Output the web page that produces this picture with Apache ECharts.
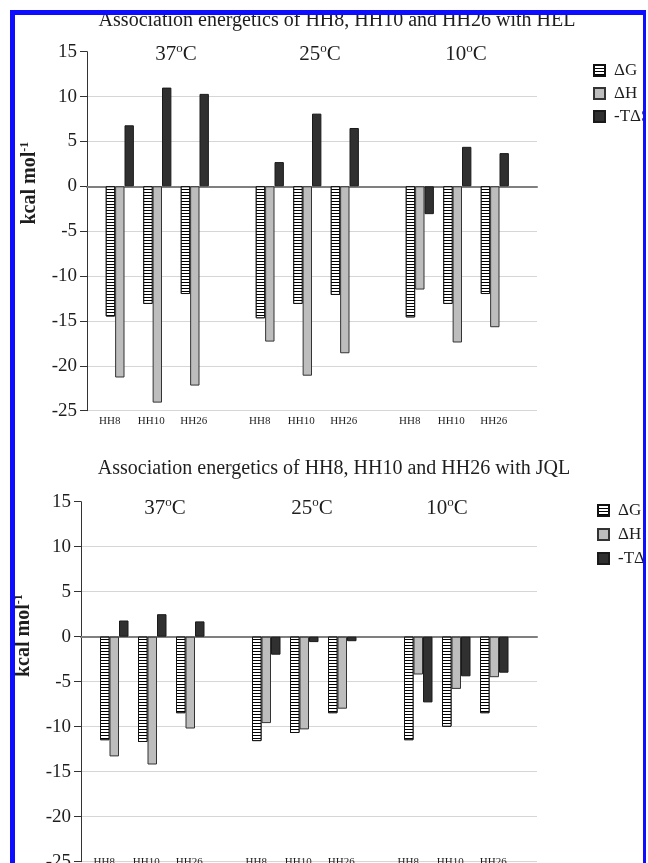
<!DOCTYPE html>
<html>
<head>
<meta charset="utf-8">
<script src="https://cdn.jsdelivr.net/npm/echarts@6/dist/echarts.min.js"></script>
<style>
  html, body { margin: 0; padding: 0; background: #fff; overflow: hidden; }
  #chart { width: 648px; height: 863px; }
  #frame { position: absolute; left: 10px; top: 10px; width: 636px; height: 900px; box-sizing: border-box;
    border-left: 5px solid #0d0dff; border-top: 5px solid #0d0dff; border-right: 3px solid #0d0dff; pointer-events: none; }
  #edge { position: absolute; left: 646px; top: 0; width: 2px; height: 863px; background: #fff; }
</style>
</head>
<body>
<div id="chart"></div>
<div id="frame"></div>
<div id="edge"></div>
<script>
// values, order: 37, 25, 10 degC, each HH8, HH10, HH26
var temps = ['37', '25', '10'];
var peptides = ['HH8', 'HH10', 'HH26'];
var seriesNames = ['ΔG', 'ΔH', '-TΔS'];
var yMin = -25, yMax = 15, yStep = 5;

var helDG = [-14.5, -13.1, -12.0, -14.7, -13.1, -12.1, -14.6, -13.1, -12.0];
var helDH = [-21.3, -24.1, -22.2, -17.3, -21.1, -18.6, -11.5, -17.4, -15.7];
var helTS = [6.8, 11.0, 10.3, 2.7, 8.1, 6.5, -3.1, 4.4, 3.7];

var jqlDG = [-11.5, -11.7, -8.5, -11.6, -10.7, -8.5, -11.5, -10.0, -8.5];
var jqlDH = [-13.3, -14.2, -10.2, -9.6, -10.3, -8.0, -4.2, -5.8, -4.5];
var jqlTS = [1.8, 2.5, 1.7, -2.0, -0.6, -0.5, -7.3, -4.4, -4.0];

var FONT = 'Liberation Serif';
var INK = '#1e1e1e';

// one empty category between temperatures
var cats = [];
temps.forEach(function (t, i) {
    if (i > 0) cats.push('gap' + i);
    peptides.forEach(function (p) { cats.push(t + ':' + p); });
});
function spaced(vals) {
    var out = [], k = 0;
    cats.forEach(function (c) { out.push(c.indexOf(':') < 0 ? null : vals[k++]); });
    return out;
}

var barStyles = [
    { color: '#fff', borderColor: '#111', borderWidth: 1,
      decal: { symbol: 'rect', symbolSize: 1, dashArrayX: [1, 0], dashArrayY: [1, 2], color: '#000', backgroundColor: '#fff' } },
    { color: '#bdbdbd', borderColor: '#333', borderWidth: 1 },
    { color: '#303030', borderColor: '#1a1a1a', borderWidth: 1 }
];

var panels = [
    { title: 'Association energetics of HH8, HH10 and HH26 with HEL', titleX: 337, titleY: 11,
      tempX: [176, 320, 466], tempY: 42, legendX: 593, legendY: 62, legendGap: 6,
      left: 87, top: 51.7, width: 450, height: 359, labelMargin: 5, nameGap: 43, nameShift: 96,
      data: [helDG, helDH, helTS] },
    { title: 'Association energetics of HH8, HH10 and HH26 with JQL', titleX: 334, titleY: 459,
      tempX: [165, 312, 447], tempY: 496, legendX: 597, legendY: 502, legendGap: 7,
      left: 81, top: 501.7, width: 456, height: 360, labelMargin: -5, nameGap: 44, nameShift: 92,
      data: [jqlDG, jqlDH, jqlTS] }
];

var option = { animation: false, backgroundColor: '#fff', title: [], legend: [], grid: [], xAxis: [], yAxis: [], series: [] };

panels.forEach(function (p, pi) {
    var slot = p.width / 48;
    var g0 = option.grid.length;

    option.title.push({ text: p.title, left: p.titleX, top: p.titleY, textAlign: 'center', padding: 0,
        textStyle: { fontFamily: FONT, fontSize: 20, fontWeight: 'normal', color: INK } });
    temps.forEach(function (t, i) {
        option.title.push({ text: t + '{o|o}C', left: p.tempX[i], top: p.tempY, textAlign: 'center', padding: 0,
            textStyle: { fontFamily: FONT, fontSize: 21, fontWeight: 'normal', color: INK, lineHeight: 24,
                rich: { o: { fontFamily: FONT, fontSize: 13, color: INK, verticalAlign: 'top', lineHeight: 24 } } } });
    });

    option.legend.push({ data: seriesNames, orient: 'vertical', left: p.legendX, top: p.legendY, padding: 0,
        icon: 'rect', itemWidth: 11, itemHeight: 11, itemGap: p.legendGap, selectedMode: false,
        textStyle: { fontFamily: FONT, fontSize: 17, color: INK, lineHeight: 17, padding: [0, 0, 0, 4] } });

    // axis grid and bar grid share the y scale
    option.grid.push({ left: p.left, top: p.top, width: p.width, height: p.height, outerBoundsMode: 'none' });
    option.grid.push({ left: p.left + 1.5 * slot, top: p.top, width: 44 * slot, height: p.height, outerBoundsMode: 'none' });

    option.xAxis.push({ gridIndex: g0, type: 'value', min: 0, max: 1,
        axisLine: { show: true, onZero: true, lineStyle: { color: '#7f7f7f', width: 2 } },
        axisTick: { show: false }, axisLabel: { show: false }, splitLine: { show: false } });
    option.xAxis.push({ gridIndex: g0 + 1, type: 'category', data: cats, position: 'bottom',
        axisLine: { show: false, onZero: false }, axisTick: { show: false }, splitLine: { show: false },
        axisLabel: { interval: 0, margin: p.labelMargin, fontFamily: FONT, fontSize: 11, color: INK,
            formatter: function (v) { var s = v.split(':'); return s.length < 2 ? '' : '{' + s[1] + '|' + s[1] + '}'; },
            rich: {
                HH8: { fontFamily: FONT, fontSize: 11, color: INK, padding: [0, 20, 0, 0] },
                HH10: { fontFamily: FONT, fontSize: 11, color: INK, padding: [0, 12, 0, 0] },
                HH26: { fontFamily: FONT, fontSize: 11, color: INK, padding: [0, 2, 0, 0] }
            } } });

    option.yAxis.push({ gridIndex: g0, type: 'value', min: yMin, max: yMax, interval: yStep,
        name: 'kcal mol{s|-1}', nameLocation: 'middle', nameRotate: 90, nameGap: p.nameGap,
        nameTextStyle: { fontFamily: FONT, fontSize: 20, fontWeight: 'bold', color: INK, lineHeight: 22,
            padding: [0, 0, 0, p.nameShift],
            rich: { s: { fontFamily: FONT, fontSize: 12, fontWeight: 'bold', color: INK, verticalAlign: 'top', lineHeight: 22 } } },
        axisLine: { show: true, lineStyle: { color: '#333', width: 1 } },
        axisTick: { show: true, length: 7, lineStyle: { color: '#333' } },
        axisLabel: { margin: 10, fontFamily: FONT, fontSize: 19, color: INK },
        splitLine: { show: true, showMaxLine: false, lineStyle: { color: '#d6d6d6', width: 1 } } });
    option.yAxis.push({ gridIndex: g0 + 1, type: 'value', min: yMin, max: yMax, interval: yStep, show: false });

    p.data.forEach(function (vals, si) {
        option.series.push({ type: 'bar', name: seriesNames[si], xAxisIndex: g0 + 1, yAxisIndex: g0 + 1,
            barGap: '0%', barCategoryGap: '25%', data: spaced(vals), itemStyle: barStyles[si] });
    });
});

var myChart = echarts.init(document.getElementById('chart'));
myChart.setOption(option);
</script>
</body>
</html>
